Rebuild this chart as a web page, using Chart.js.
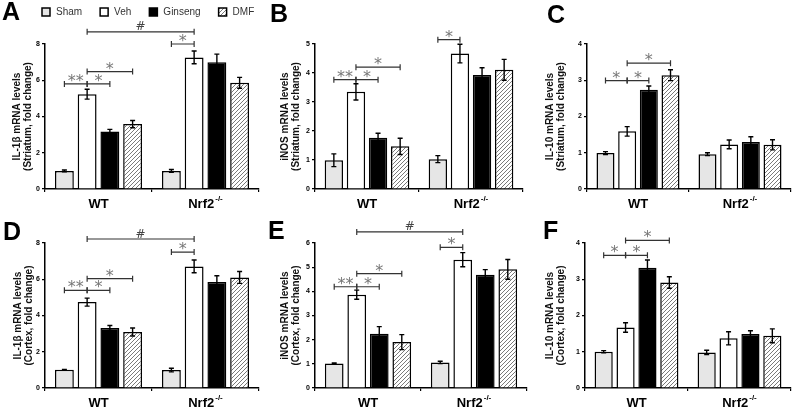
<!DOCTYPE html>
<html>
<head>
<meta charset="utf-8">
<script src="https://cdn.jsdelivr.net/npm/chart.js@4.4.1/dist/chart.umd.min.js"></script>
<style>
  body { margin: 0; background: #fff; width: 800px; height: 412px; position: relative; overflow: hidden; }
  canvas { position: absolute; }
</style>
</head>
<body>
<canvas id="cA"></canvas>
<canvas id="cB"></canvas>
<canvas id="cC"></canvas>
<canvas id="cD"></canvas>
<canvas id="cE"></canvas>
<canvas id="cF"></canvas>
<script>
const groups = ['WT', 'Nrf2'];
const groupSup = ['', '-/-'];
const treatments = ['Sham', 'Veh', 'Ginseng', 'DMF'];

// means / SEM by treatment, each [WT, Nrf2-/-]
const meanA = [[1.00, 1.00], [5.23, 7.26], [3.17, 6.99], [3.58, 5.86]];
const errA  = [[0.05, 0.08], [0.27, 0.35], [0.12, 0.45], [0.20, 0.30]];
const meanB = [[0.99, 1.03], [3.35, 4.67], [1.77, 3.93], [1.47, 4.11]];
const errB  = [[0.22, 0.12], [0.28, 0.32], [0.15, 0.25], [0.28, 0.36]];
const meanC = [[0.99, 0.96], [1.59, 1.23], [2.74, 1.30], [3.14, 1.22]];
const errC  = [[0.04, 0.04], [0.13, 0.12], [0.10, 0.14], [0.15, 0.14]];
const meanD = [[1.01, 0.99], [4.74, 6.71], [3.31, 5.85], [3.09, 6.10]];
const errD  = [[0.02, 0.10], [0.22, 0.35], [0.14, 0.34], [0.22, 0.33]];
const meanE = [[1.01, 1.06], [3.86, 5.31], [2.25, 4.69], [1.90, 4.91]];
const errE  = [[0.03, 0.05], [0.19, 0.29], [0.29, 0.21], [0.31, 0.41]];
const meanF = [[1.00, 0.98], [1.67, 1.37], [3.32, 1.49], [2.91, 1.44]];
const errF  = [[0.03, 0.06], [0.13, 0.18], [0.21, 0.09], [0.16, 0.19]];

// brackets: [group, treatment] -> [group, treatment], height, mark
const sigA = [[[0,1],[1,1],8.67,'#'], [[1,0],[1,1],8.0,'*'], [[0,0],[0,1],5.8,'**'], [[0,1],[0,2],5.8,'*'], [[0,1],[0,3],6.48,'*']];
const sigB = [[[1,0],[1,1],5.15,'*'], [[0,0],[0,1],3.77,'**'], [[0,1],[0,2],3.77,'*'], [[0,1],[0,3],4.2,'*']];
const sigC = [[[0,0],[0,1],2.99,'*'], [[0,1],[0,2],2.99,'*'], [[0,1],[0,3],3.47,'*']];
const sigD = [[[0,1],[1,1],8.22,'#'], [[1,0],[1,1],7.5,'*'], [[0,0],[0,1],5.39,'**'], [[0,1],[0,2],5.39,'*'], [[0,1],[0,3],6.03,'*']];
const sigE = [[[0,1],[1,1],6.46,'#'], [[1,0],[1,1],5.82,'*'], [[0,0],[0,1],4.19,'**'], [[0,1],[0,2],4.19,'*'], [[0,1],[0,3],4.73,'*']];
const sigF = [[[0,0],[0,1],3.66,'*'], [[0,1],[0,2],3.66,'*'], [[0,1],[0,3],4.07,'*']];

const FONT = '"Liberation Sans", Arial, sans-serif';
Chart.defaults.font.family = FONT;
Chart.defaults.color = '#000';

// diagonal hatch for DMF
function hatch() {
  const c = document.createElement('canvas');
  c.width = 4; c.height = 4;
  const g = c.getContext('2d');
  g.fillStyle = '#fff';
  g.fillRect(0, 0, 4, 4);
  g.strokeStyle = '#7a7a7a';
  g.lineWidth = 1;
  g.beginPath();
  g.moveTo(0, 4); g.lineTo(4, 0);
  g.moveTo(-1, 1); g.lineTo(1, -1);
  g.moveTo(3, 5); g.lineTo(5, 3);
  g.stroke();
  return g.createPattern(c, 'repeat');
}
const fills = ['#e6e6e6', '#ffffff', '#000000', hatch()];

function centeredText(ctx, txt, cx, cy) {
  const m = ctx.measureText(txt);
  ctx.textAlign = 'center';
  ctx.textBaseline = 'alphabetic';
  ctx.fillText(txt, cx, cy + (m.actualBoundingBoxAscent - m.actualBoundingBoxDescent) / 2);
}

function makeDecor(p) {
  return {
    id: 'decor' + p.letter,
    afterDraw(chart) {
      const ctx = chart.ctx;
      const y = chart.scales.y, x = chart.scales.x;
      const metas = chart.data.datasets.map((d, i) => chart.getDatasetMeta(i));
      ctx.save();

      // error bars
      ctx.strokeStyle = '#000';
      ctx.lineWidth = 1.4;
      chart.data.datasets.forEach((ds, i) => {
        metas[i].data.forEach((bar, j) => {
          const v = ds.data[j], e = p.errs[i][j];
          const top = y.getPixelForValue(v + e), bot = y.getPixelForValue(v - e);
          ctx.beginPath();
          ctx.moveTo(bar.x, top); ctx.lineTo(bar.x, bot);
          ctx.moveTo(bar.x - 2.5, top); ctx.lineTo(bar.x + 2.5, top);
          ctx.moveTo(bar.x - 2.5, bot); ctx.lineTo(bar.x + 2.5, bot);
          ctx.stroke();
        });
      });

      // significance brackets
      p.sigs.forEach(([a, b, h, mark]) => {
        const x1 = metas[a[1]].data[a[0]].x, x2 = metas[b[1]].data[b[0]].x;
        const yy = y.getPixelForValue(h);
        ctx.strokeStyle = '#333';
        ctx.lineWidth = 1.2;
        ctx.beginPath();
        ctx.moveTo(x1, yy); ctx.lineTo(x2, yy);
        ctx.moveTo(x1, yy - 3); ctx.lineTo(x1, yy + 3);
        ctx.moveTo(x2, yy - 3); ctx.lineTo(x2, yy + 3);
        ctx.stroke();
        ctx.fillStyle = mark === '#' ? '#444' : '#777';
        ctx.font = mark === '#' ? '12px "DejaVu Sans"' : '16px "DejaVu Sans"';
        centeredText(ctx, mark, (x1 + x2) / 2, yy - 6);
      });

      // category labels with superscript
      groups.forEach((g, i) => {
        const cx = x.getPixelForValue(i);
        const cy = chart.chartArea.bottom + 15;
        ctx.font = 'bold 13px ' + FONT;
        const w1 = ctx.measureText(g).width;
        ctx.font = 'bold 8px ' + FONT;
        const w2 = groupSup[i] ? ctx.measureText(groupSup[i]).width + 1 : 0;
        const x0 = cx - (w1 + w2) / 2;
        ctx.fillStyle = '#000';
        ctx.textAlign = 'left';
        ctx.textBaseline = 'middle';
        ctx.font = 'bold 13px ' + FONT;
        ctx.fillText(g, x0, cy);
        if (groupSup[i]) {
          ctx.font = 'bold 8px ' + FONT;
          ctx.fillText(groupSup[i], x0 + w1 + 1, cy - 5);
        }
      });

      // panel letter
      ctx.fillStyle = '#000';
      ctx.font = 'bold 25px ' + FONT;
      ctx.textAlign = 'left';
      ctx.textBaseline = 'alphabetic';
      ctx.fillText(p.letter, p.letterPos[0], p.letterPos[1]);

      // legend (panel A only)
      if (p.legend) {
        let lx = 42;
        ctx.font = '10px ' + FONT;
        ctx.textBaseline = 'middle';
        chart.data.datasets.forEach(ds => {
          ctx.fillStyle = ds.backgroundColor;
          ctx.fillRect(lx, 8, 8, 8);
          ctx.strokeStyle = '#000';
          ctx.lineWidth = 1.5;
          ctx.strokeRect(lx, 8, 8, 8);
          ctx.fillStyle = '#333';
          ctx.fillText(ds.label, lx + 14, 12.5);
          lx += 14 + ctx.measureText(ds.label).width + 18;
        });
      }
      ctx.restore();
    }
  };
}

function makePanel(p) {
  const cv = document.getElementById(p.id);
  cv.width = p.rect[2];
  cv.height = p.rect[3];
  cv.style.left = p.rect[0] + 'px';
  cv.style.top = p.rect[1] + 'px';
  const [L, T, R, B] = p.area;
  return new Chart(cv, {
    type: 'bar',
    data: {
      labels: groups,
      datasets: treatments.map((t, i) => ({
        label: t,
        data: p.means[i],
        backgroundColor: fills[i],
        borderColor: '#000',
        borderWidth: 1.5,
        borderSkipped: 'bottom',
        categoryPercentage: 0.85,
        barPercentage: 0.83
      }))
    },
    options: {
      responsive: false,
      animation: false,
      layout: { padding: { left: 0, top: T - p.rect[1], right: p.rect[0] + p.rect[2] - R, bottom: 0 } },
      plugins: { legend: { display: false }, tooltip: { enabled: false } },
      scales: {
        x: {
          offset: true,
          grid: { offset: true, drawOnChartArea: false, drawTicks: true, tickLength: 3, color: '#000', lineWidth: 1.2 },
          border: { display: true, color: '#000', width: 1.5 },
          ticks: { display: false },
          afterFit: s => { s.height = p.rect[1] + p.rect[3] - B; }
        },
        y: {
          min: 0,
          max: p.yMax,
          ticks: { stepSize: p.step, padding: 2, font: { size: 7, weight: 'bold' }, color: '#000' },
          grid: { drawOnChartArea: false, drawTicks: true, tickLength: 3, color: '#000', lineWidth: 1.2 },
          border: { display: true, color: '#000', width: 1.5 },
          title: {
            display: true,
            text: p.yTitle,
            color: '#111',
            font: { size: 10, weight: 'bold', lineHeight: 1.1 },
            padding: { top: p.titlePad, bottom: 0 }
          },
          afterFit: s => { s.width = L - p.rect[0]; }
        }
      }
    },
    plugins: [makeDecor(p)]
  });
}

makePanel({ id: 'cA', letter: 'A', letterPos: [2, 20], legend: true,
  rect: [0, 0, 265, 210], area: [45, 44, 259, 189],
  means: meanA, errs: errA, sigs: sigA, yMax: 8, step: 2, titlePad: 11.5,
  yTitle: ['IL-1β mRNA levels', '(Striatum, fold change)'] });
makePanel({ id: 'cB', letter: 'B', letterPos: [5, 22],
  rect: [265, 0, 265, 210], area: [315, 44, 523, 189],
  means: meanB, errs: errB, sigs: sigB, yMax: 5, step: 1, titlePad: 15,
  yTitle: ['iNOS mRNA levels', '(Striatum, fold change)'] });
makePanel({ id: 'cC', letter: 'C', letterPos: [17, 23],
  rect: [530, 0, 270, 210], area: [587, 44, 791, 189],
  means: meanC, errs: errC, sigs: sigC, yMax: 4, step: 1, titlePad: 14.5,
  yTitle: ['IL-10 mRNA levels', '(Striatum, fold change)'] });
makePanel({ id: 'cD', letter: 'D', letterPos: [3, 30],
  rect: [0, 210, 265, 202], area: [45, 243, 259, 388],
  means: meanD, errs: errD, sigs: sigD, yMax: 8, step: 2, titlePad: 12.8,
  yTitle: ['IL-1β mRNA levels', '(Cortex, fold change)'] });
makePanel({ id: 'cE', letter: 'E', letterPos: [3, 29],
  rect: [265, 210, 265, 202], area: [315, 243, 527, 388],
  means: meanE, errs: errE, sigs: sigE, yMax: 6, step: 1, titlePad: 14.5,
  yTitle: ['iNOS mRNA levels', '(Cortex, fold change)'] });
makePanel({ id: 'cF', letter: 'F', letterPos: [13, 29],
  rect: [530, 210, 270, 202], area: [585, 243, 791, 388],
  means: meanF, errs: errF, sigs: sigF, yMax: 4, step: 1, titlePad: 14.5,
  yTitle: ['IL-10 mRNA levels', '(Cortex, fold change)'] });
</script>
</body>
</html>
